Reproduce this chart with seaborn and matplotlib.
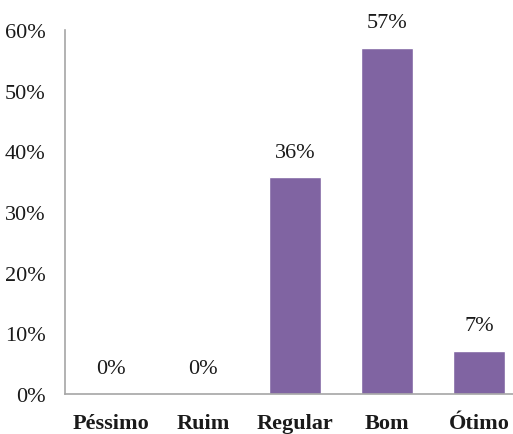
import matplotlib
matplotlib.use("Agg")
import matplotlib.pyplot as plt
import seaborn as sns
import pandas as pd

categories = ["Péssimo", "Ruim", "Regular", "Bom", "Ótimo"]
values = [0.0, 0.0, 35.7, 57.1, 7.1]
labels = ["0%", "0%", "36%", "57%", "7%"]
yticks = [0, 10, 20, 30, 40, 50, 60]

sns.set_style("white")
plt.rcParams["font.family"] = ["Liberation Serif", "DejaVu Serif"]

df = pd.DataFrame({"cat": categories, "val": values})

fig = plt.figure(figsize=(5.13, 4.35), dpi=100)
ax = fig.add_axes([65/513, 40/435, 460/513, 364/435])
sns.barplot(data=df, x="cat", y="val", color="#8064A2", saturation=1, width=0.565, ax=ax)

ax.set_ylim(0, 60)
ax.set_xlim(-0.5, 4.5)
ax.set_yticks(yticks)
ax.set_yticklabels([f"{t}%" for t in yticks], fontsize=16, color="#1a1a1a")
ax.set_xticklabels(categories, fontsize=16, fontweight="bold", color="#1a1a1a")
ax.set_xlabel("")
ax.set_ylabel("")
ax.tick_params(axis="both", length=0)
ax.tick_params(axis="y", pad=14)
ax.tick_params(axis="x", pad=14)

for s in ["top", "right"]:
    ax.spines[s].set_visible(False)
for s in ["left", "bottom"]:
    ax.spines[s].set_color("#A6A6A6")
    ax.spines[s].set_linewidth(1.2)

for i, (v, lab) in enumerate(zip(values, labels)):
    ax.annotate(lab, (i, v), xytext=(0, 25), textcoords="offset pixels",
                ha="center", va="center", fontsize=16, color="#1a1a1a")

fig.savefig("out.png", dpi=100)
